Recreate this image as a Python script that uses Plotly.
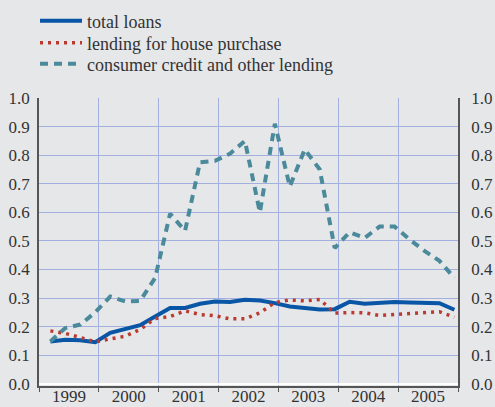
import plotly.graph_objects as go

years = [1999, 2000, 2001, 2002, 2003, 2004, 2005]
quarter_pos = [1999.19 + 0.25 * i for i in range(28)]

total_loans = [0.148, 0.154, 0.152, 0.145, 0.178, 0.190, 0.205, 0.235,
               0.265, 0.265, 0.280, 0.288, 0.286, 0.294, 0.291, 0.282,
               0.270, 0.265, 0.260, 0.261, 0.287, 0.280, 0.282, 0.286,
               0.284, 0.282, 0.282, 0.259]
house_purchase = [0.185, 0.176, 0.162, 0.146, 0.157, 0.166, 0.190, 0.228,
                  0.235, 0.255, 0.242, 0.238, 0.227, 0.227, 0.248, 0.284,
                  0.293, 0.290, 0.295, 0.247, 0.249, 0.248, 0.239, 0.243,
                  0.245, 0.248, 0.252, 0.233]
consumer_credit = [0.148, 0.195, 0.207, 0.250, 0.305, 0.288, 0.290, 0.370,
                   0.595, 0.535, 0.775, 0.780, 0.805, 0.850, 0.600, 0.910,
                   0.690, 0.820, 0.750, 0.475, 0.530, 0.510, 0.550, 0.550,
                   0.505, 0.465, 0.430, 0.370]
y_ticks = [round(0.1 * i, 1) for i in range(11)]

BG = "#e6e7e9"
GRID = "#a3b0df"
AXIS = "#555555"
FONT = "Liberation Serif, Times New Roman, DejaVu Serif, serif"

fig = go.Figure()
fig.add_trace(go.Scatter(x=quarter_pos, y=total_loans, mode="lines",
                         name="total loans", legend="legend",
                         line=dict(color="#0a56a6", width=4)))
fig.add_trace(go.Scatter(x=quarter_pos, y=house_purchase, mode="lines",
                         name="lending for house purchase", legend="legend2",
                         line=dict(color="#bb3a30", width=3.5,
                                   dash="3px,5px")))
fig.add_trace(go.Scatter(x=quarter_pos, y=consumer_credit, mode="lines",
                         name="consumer credit and other lending",
                         legend="legend3",
                         line=dict(color="#4a8a9b", width=4, dash="8px,6px")))
# invisible trace so the right axis is drawn
fig.add_trace(go.Scatter(x=[quarter_pos[0]], y=[total_loans[0]], yaxis="y2",
                         mode="lines", showlegend=False, hoverinfo="skip",
                         line=dict(width=0)))

PLOT_TOP, PLOT_BOT = 98, 386.3
PLOT_L, PLOT_R = 39, 458.5


def leg(center_px):
    return dict(x=(35 - PLOT_L) / (PLOT_R - PLOT_L),
                y=(PLOT_BOT - center_px) / (PLOT_BOT - PLOT_TOP),
                xanchor="left", yanchor="middle", bgcolor="rgba(0,0,0,0)",
                font=dict(size=18, family=FONT, color="#333333"),
                itemwidth=42)


fig.update_layout(
    width=495, height=407,
    margin=dict(l=PLOT_L, r=495 - PLOT_R, t=PLOT_TOP, b=407 - PLOT_BOT,
                autoexpand=False),
    paper_bgcolor=BG, plot_bgcolor=BG,
    font=dict(family=FONT, size=17, color="#333333"),
    showlegend=True,
    legend=leg(21), legend2=leg(43), legend3=leg(64),
    xaxis=dict(range=[1999, 2006], tickvals=[y + 0.5 for y in years],
               ticktext=[str(y) for y in years], ticks="", showgrid=False,
               showline=True, linecolor=AXIS, linewidth=1.5, tickangle=0,
               zeroline=False, automargin=False, ticklabelstandoff=-6,
               minor=dict(tick0=1999, dtick=1, showgrid=True, gridcolor=GRID,
                          gridwidth=1, ticks="outside", ticklen=4,
                          tickcolor=AXIS)),
    yaxis=dict(range=[-0.008, 1.0], tickvals=y_ticks,
               ticktext=[f"{v:.1f}" for v in y_ticks], automargin=False,
               showgrid=True, gridcolor=GRID, gridwidth=1,
               zeroline=True, zerolinecolor="white", zerolinewidth=2,
               showline=True, linecolor=AXIS, linewidth=1.5, ticks="",
               ticklabelstandoff=4),
    yaxis2=dict(range=[-0.008, 1.0], tickvals=y_ticks,
                ticktext=[f"{v:.1f}" for v in y_ticks], automargin=False,
                overlaying="y", side="right", showgrid=False,
                zeroline=False, showline=True, linecolor=AXIS,
                linewidth=1.5, ticks="", ticklabelstandoff=8),
)

fig.write_html(
    "out.html",
    config={"displayModeBar": False},
    post_script="document.body.style.margin='0';"
                "document.body.style.background='" + BG + "';",
)
